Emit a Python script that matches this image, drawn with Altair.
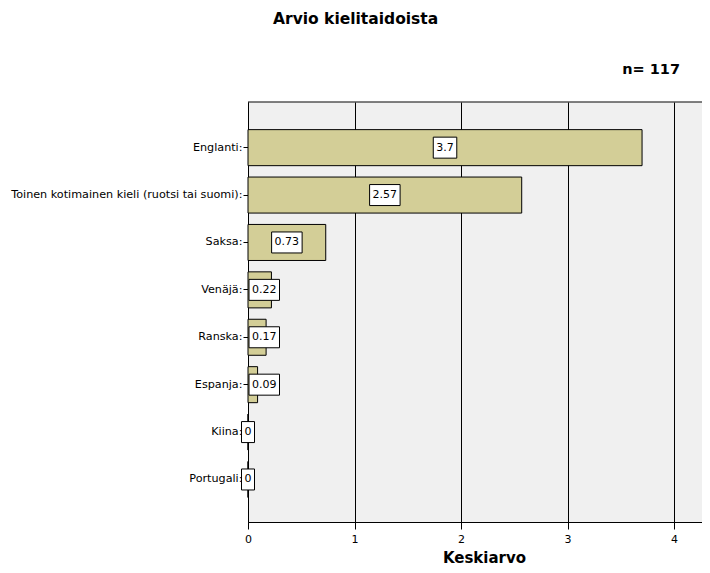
import altair as alt
import pandas as pd

languages = [
    "Englanti:",
    "Toinen kotimainen kieli (ruotsi tai suomi):",
    "Saksa:",
    "Venäjä:",
    "Ranska:",
    "Espanja:",
    "Kiina:",
    "Portugali:",
]
means = [3.7, 2.57, 0.73, 0.22, 0.17, 0.09, 0, 0]
mean_labels = ["3.7", "2.57", "0.73", "0.22", "0.17", "0.09", "0", "0"]
x_ticks = [0, 1, 2, 3, 4]

WIDTH = 454
HEIGHT = 420
PX = 106.5
XMAX = WIDTH / PX
FONT = "DejaVu Sans"


def box_width(s):
    return 7 * sum(c.isdigit() for c in s) + 3.5 * s.count(".") + 6


rows = []
for lang, m, lab in zip(languages, means, mean_labels):
    w = box_width(lab)
    if m * PX >= w + 4:
        c = m / 2
    elif m > 0:
        c = (1 + w / 2) / PX
    else:
        c = 0.0
    rows.append({"lang": lang, "mean": m, "label": lab, "cx": c,
                 "lo": c - w / 2 / PX, "hi": c + w / 2 / PX})
df = pd.DataFrame(rows)

y_enc = alt.Y(
    "lang:N",
    sort=languages,
    scale=alt.Scale(paddingInner=0.24, paddingOuter=0.55, align=0.53),
    axis=alt.Axis(title=None, labelFont=FONT, labelFontSize=11.2, labelColor="black",
                  tickColor="black", tickSize=5, labelPadding=1, domainColor="black",
                  labelLimit=400, grid=False),
)
x_scale = alt.Scale(domain=[0, XMAX], nice=False, zero=True)
x_enc = alt.X(
    "mean:Q",
    scale=x_scale,
    axis=alt.Axis(values=x_ticks, title="Keskiarvo", grid=True, gridColor="black",
                  gridWidth=1, gridOpacity=1, domainColor="black", tickColor="black",
                  tickSize=7, labelFont=FONT, labelFontSize=11, labelColor="black",
                  labelPadding=4, labelFlush=False, titleFont=FONT, titleFontSize=15,
                  titleFontWeight="bold", titleColor="black", titleX=236, titleY=40,
                  titleBaseline="alphabetic", titleAlign="center", format="d"),
)

base = alt.Chart(df)
bars = base.mark_bar(fill="#D3CE97", stroke="black", strokeWidth=1).encode(x=x_enc, y=y_enc)
boxes = base.mark_bar(size=21, fill="white", stroke="black", strokeWidth=1).encode(
    x=alt.X("lo:Q", scale=x_scale), x2="hi:Q", y=y_enc)
texts = base.mark_text(font=FONT, fontSize=11, color="black", align="center",
                       baseline="middle").encode(
    x=alt.X("cx:Q", scale=x_scale), y=y_enc, text="label:N")

top_border = alt.Chart(pd.DataFrame({"a": [0]})).mark_rule(color="black", strokeWidth=1).encode(
    x=alt.value(0), x2=alt.value(WIDTH), y=alt.value(0))

title = alt.Chart(pd.DataFrame({"t": ["Arvio kielitaidoista"]})).mark_text(
    font=FONT, fontSize=15.5, fontWeight="bold", color="black", align="left", baseline="middle"
).encode(text="t:N", x=alt.value(25), y=alt.value(-83))

n_text = alt.Chart(pd.DataFrame({"t": ["n= 117"]})).mark_text(
    font=FONT, fontSize=14.5, fontWeight="bold", color="black", align="right", baseline="middle"
).encode(text="t:N", x=alt.value(432), y=alt.value(-32))

chart = alt.layer(bars, boxes, texts, top_border, title, n_text).properties(
    width=WIDTH,
    height=HEIGHT,
    autosize=alt.AutoSizeParams(type="none"),
    padding={"left": 240, "top": 94, "right": 0, "bottom": 43},
    background="white",
).configure_view(fill="#F0F0F0", strokeOpacity=0)

chart.save("out.html", embed_options={"renderer": "svg", "actions": False})
